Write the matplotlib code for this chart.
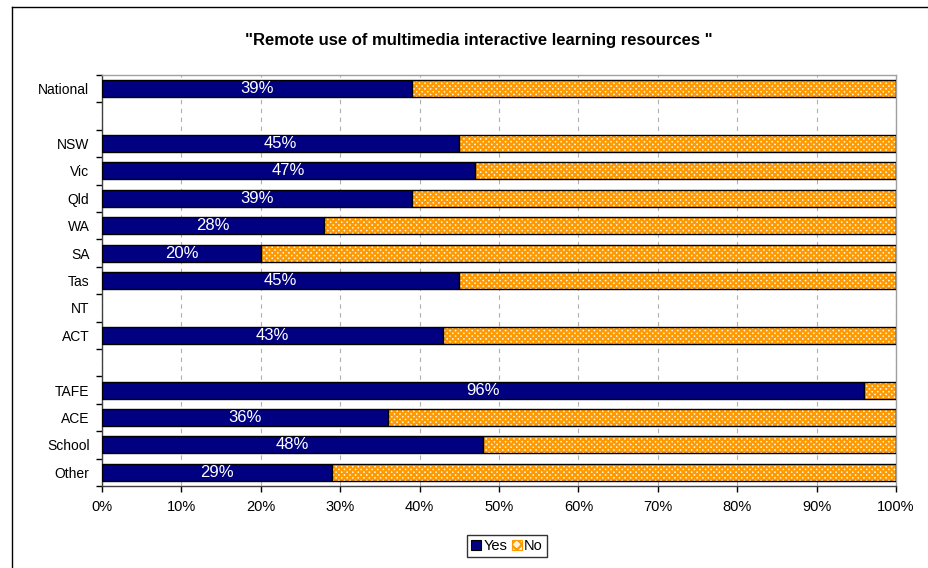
import matplotlib
matplotlib.use("Agg")
import matplotlib.pyplot as plt
import numpy as np
from matplotlib.lines import Line2D
from matplotlib.patches import Patch

plt.rcParams['font.family'] = ['Liberation Sans', 'DejaVu Sans']
plt.rcParams['hatch.linewidth'] = 1.6

title = '"Remote use of multimedia interactive learning resources "'
categories = ['National', '', 'NSW', 'Vic', 'Qld', 'WA', 'SA', 'Tas', 'NT', 'ACT', '',
              'TAFE', 'ACE', 'School', 'Other']
yes = [39, np.nan, 45, 47, 39, 28, 20, 45, np.nan, 43, np.nan, 96, 36, 48, 29]
no = [100 - v if not np.isnan(v) else np.nan for v in yes]
xticks = [0, 10, 20, 30, 40, 50, 60, 70, 80, 90, 100]
xticklabels = [f'{t}%' for t in xticks]

W, H = 929, 568
fig = plt.figure(figsize=(W / 100, H / 100), dpi=100)
ax = fig.add_axes([102 / W, 1 - 486 / H, 794 / W, 411 / H])

y = np.arange(len(categories))
navy = '#000080'
orange = '#FF9900'
bh = 0.62

yes_arr = np.array(yes, dtype=float)
no_arr = np.array(no, dtype=float)
mask = ~np.isnan(yes_arr)

ax.barh(y[mask], yes_arr[mask], height=bh, color=navy, edgecolor='black', linewidth=1.0, zorder=3)
ax.barh(y[mask], no_arr[mask], left=yes_arr[mask], height=bh, facecolor='#FFF4E0',
        edgecolor=orange, hatch='xxxxxx', linewidth=0, zorder=3)
ax.barh(y[mask], no_arr[mask], left=yes_arr[mask], height=bh, fill=False,
        edgecolor='black', linewidth=1.0, zorder=4)

for yi, v in zip(y[mask], yes_arr[mask]):
    ax.text(v / 2, yi, f'{int(v)}%', color='white', ha='center', va='center', fontsize=12, zorder=5)

ax.set_xlim(0, 100)
ax.set_ylim(len(categories) - 0.5, -0.5)
ax.set_xticks(xticks)
ax.set_xticklabels(xticklabels, fontsize=10.5)
ax.set_yticks(y)
ax.set_yticklabels(categories, fontsize=10)
ax.tick_params(axis='y', which='major', length=0, pad=9)
ax.set_yticks(np.arange(-0.5, len(categories), 1), minor=True)
ax.tick_params(axis='y', which='minor', length=4, direction='out', width=1, color='black')
ax.tick_params(axis='x', which='major', length=4, direction='out', width=1, color='black', pad=6)

ax.grid(axis='x', color='#b0b0b0', linestyle=(0, (4, 4)), linewidth=0.8, zorder=0)
for s in ['top', 'right']:
    ax.spines[s].set_color('#a0a0a0')
    ax.spines[s].set_linewidth(1.0)
for s in ['left', 'bottom']:
    ax.spines[s].set_color('#404040')
    ax.spines[s].set_linewidth(1.0)

fig.text(479 / W, 1 - 40 / H, title, ha='center', va='center', fontsize=12, fontweight='bold')

# outer chart border
fig.add_artist(Line2D([12 / W, 12 / W], [0, 1 - 7 / H], color='black', linewidth=1.0, transform=fig.transFigure))
fig.add_artist(Line2D([12 / W, 1], [1 - 7 / H, 1 - 7 / H], color='black', linewidth=1.0, transform=fig.transFigure))

handles = [Patch(facecolor=navy, edgecolor='black', linewidth=0.8),
           Patch(facecolor='#FFF4E0', edgecolor=orange, hatch='xxx', linewidth=0.8)]
leg = fig.legend(handles, ['Yes', 'No'], loc='center', bbox_to_anchor=(507 / W, 1 - 546 / H),
                 ncol=2, frameon=True, fontsize=10.5, handlelength=0.7, handleheight=0.7,
                 handletextpad=0.15, columnspacing=0.3, borderpad=0.3, fancybox=False,
                 borderaxespad=0)
leg.get_frame().set_edgecolor('black')
leg.get_frame().set_linewidth(1.0)

fig.savefig('out.png', dpi=100)
